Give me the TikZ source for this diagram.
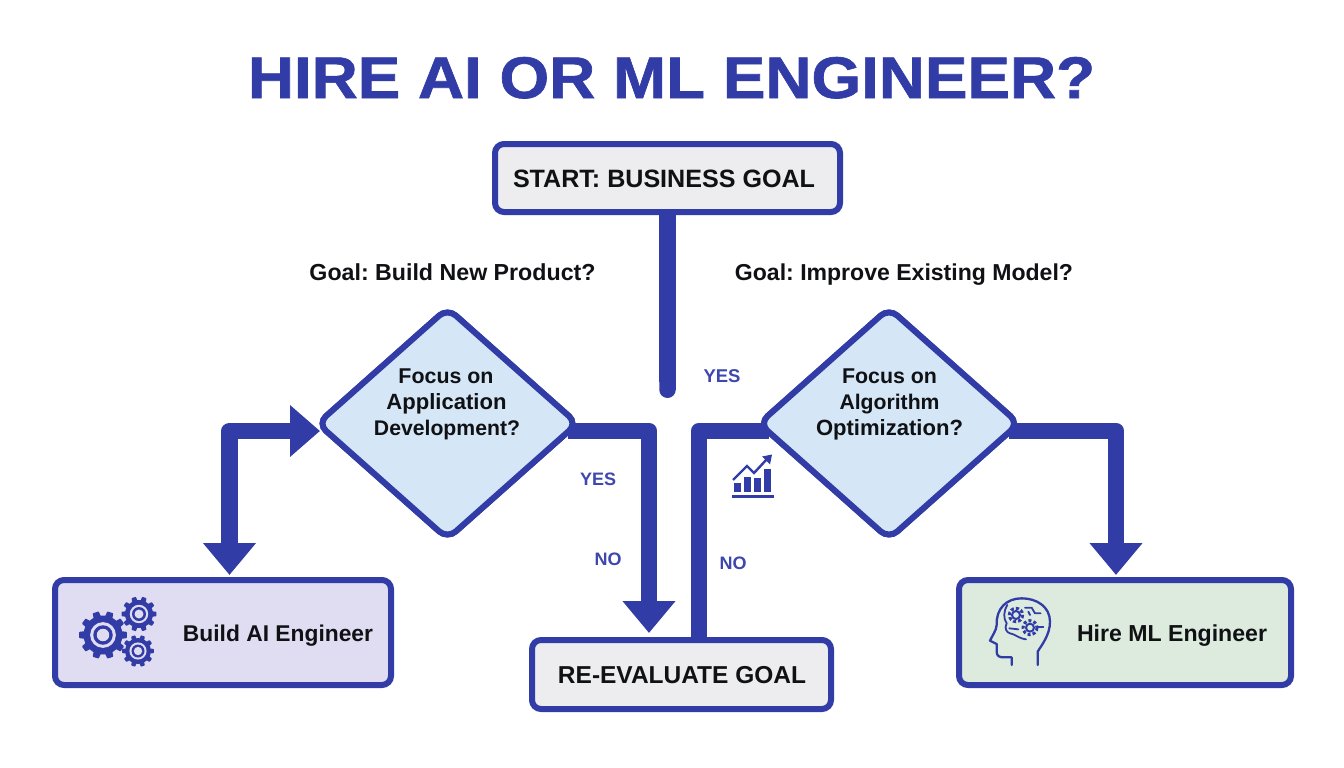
\documentclass[tikz,border=0pt]{standalone}
\usepackage{fontspec}
\setmainfont{Liberation Sans}
\newfontfamily\heavy{Liberation Sans}[BoldFeatures={FakeBold=1.1}]
\usetikzlibrary{arrows.meta,shapes.geometric,calc}
\definecolor{ink}{HTML}{323CA6}
\definecolor{lab}{HTML}{3D47AE}
\definecolor{txt}{HTML}{101114}
\definecolor{aifill}{HTML}{E0DCF2}
\definecolor{mlfill}{HTML}{DCEBDD}
\definecolor{greyfill}{HTML}{EDEDF0}
\definecolor{diafill}{HTML}{D5E6F6}
\newcommand{\fitw}[2]{\resizebox{#1pt}{!}{\frenchspacing\bfseries\strut #2}}
\tikzset{
  x=1pt,y=-1pt,
  box/.style={draw=ink,line width=6pt,rounded corners=9pt,minimum width=#1,inner sep=0pt},
  dia/.style={draw=ink,fill=diafill,line width=6pt,diamond,rounded corners=11pt,minimum width=262pt,minimum height=233pt,inner sep=0pt},
  tx/.style={anchor=base,text=txt,inner sep=0pt},
  yn/.style={anchor=base,text=lab,inner sep=0pt},
  flow/.style={draw=ink,line width=16.5pt,line join=round},
  bigtip/.style={-{Triangle[width=51pt,length=32pt]}},
}
\newcommand{\gearicon}[5]{% x y outer inner fill
  \fill[ink] (#1,#2) circle[radius=#4];
  \foreach \a in {0,36,...,324}{
    \fill[ink,rounded corners=0.6pt] ($(#1,#2)+({\a-12}:#4-1)$) -- ($(#1,#2)+({\a-7.5}:#3)$) -- ($(#1,#2)+({\a+7.5}:#3)$) -- ($(#1,#2)+({\a+12}:#4-1)$) -- cycle;
  }
  \fill[#5] (#1,#2) circle[radius=0.66*#4];
  \fill[ink] (#1,#2) circle[radius=0.50*#4];
  \fill[#5] (#1,#2) circle[radius=0.32*#4];
}
\begin{document}
\begin{tikzpicture}
\useasboundingbox (0,0) rectangle (1344,768);
\fill[white] (0,0) rectangle (1344,768);

\node[anchor=base,text=ink,inner sep=0pt] (title) at (671.5,98) {\scalebox{1}[0.92]{\fitw{847}{\heavy\bfseries HIRE AI OR ML ENGINEER?}}};

\coordinate (yesend) at (667.5,398);
\node[box=345pt,fill=greyfill,minimum height=68pt] (start) at (667.5,178) {};
\node[box=336pt,fill=aifill,minimum height=105pt] (ai) at (223,632.5) {};
\node[box=299pt,fill=greyfill,minimum height=69pt] (re) at (681.5,674.5) {};
\node[box=332pt,fill=mlfill,minimum height=105pt] (ml) at (1125,632.5) {};

\draw[flow,-{Round Cap[]}] (start.south) -- (yesend);

\node[dia] (ldia) at (447.5,423.5) {};
\node[dia] (rdia) at (889,423.5) {};

\draw[flow,bigtip] ($(ldia.east)+(-14,7.5)$) -| ($(re.north)+(-32.5,-4)$);
\draw[flow] ($(re.north)+(17.5,0)$) |- ($(rdia.west)+(14,7.5)$);
\draw[flow,bigtip] ($(rdia.east)+(-14,7.5)$) -| ($(ml.north)+(-9,-2)$);

% diamonds again, over the connector ends
\node[dia] at (ldia.center) {};
\node[dia] at (rdia.center) {};

\draw[flow,{Triangle[width=50pt,length=30pt]}-{Triangle[width=51pt,length=32pt]}]
  ($(ldia.west)+(6.5,7.5)$) -| ($(ai.north)+(6.5,-2)$);

% texts
\node[tx] (t1) at (664,187) {\fitw{302}{START: BUSINESS GOAL}};
\node[tx] (q1) at (452.5,280) {\fitw{286}{Goal: Build New Product?}};
\node[tx] (q2) at (904,280) {\fitw{338}{Goal: Improve Existing Model?}};

\node[tx] (d1a) at (446,383) {\fitw{95}{Focus on}};
\node[tx] (d1b) at (446.5,409) {\fitw{120}{Application}};
\node[tx] (d1c) at (447,435) {\fitw{146}{Development?}};
\node[tx] (d2a) at (889.5,383) {\fitw{95}{Focus on}};
\node[tx] (d2b) at (889.5,409) {\fitw{100}{Algorithm}};
\node[tx] (d2c) at (889.5,435) {\fitw{147}{Optimization?}};

\node[tx] (t2) at (278,641) {\fitw{190}{Build AI Engineer}};
\node[tx] (t3) at (682,683) {\fitw{248}{RE-EVALUATE GOAL}};
\node[tx] (t4) at (1172,641) {\fitw{190}{Hire ML Engineer}};

\node[yn] (y1) at (722,382) {\fitw{37}{YES}};
\node[yn] (y2) at (598,485) {\fitw{36}{YES}};
\node[yn] (n1) at (608,565) {\fitw{27}{NO}};
\node[yn] (n2) at (733,569) {\fitw{27}{NO}};

% gears
\gearicon{103}{635}{24}{19.5}{aifill}
\gearicon{139}{614}{17.5}{14}{aifill}
\gearicon{138}{651}{16}{13}{aifill}

% chart icon
\fill[ink] (732,494.5) rectangle (774,497.5);
\fill[ink] (734,483) rectangle (741,492);
\fill[ink] (744,477) rectangle (751,492);
\fill[ink] (754,477.5) rectangle (761,492);
\fill[ink] (764,469) rectangle (771,492);
\draw[ink,line width=2.4pt] (733,480) -- (747,466) -- (754,473) -- (767,459);
\fill[ink] (772,454.5) -- (762,456.5) -- (770,464.5) -- cycle;

% head icon
\begin{scope}[shift={(950,570)},x=0.3333pt,y=-0.3333pt,line width=2.3pt,line cap=round,line join=round]
\draw[ink] (263,285) -- (263,245) .. controls (275,225) and (300,195) .. (300,155)
  .. controls (300,110) and (260,85) .. (215,85)
  .. controls (170,85) and (138,115) .. (140,165)
  .. controls (140,180) and (125,200) .. (120,212) -- (140,222) -- (140,245)
  .. controls (140,258) and (148,262) .. (160,262) -- (185,262) -- (185,285);
\draw[ink,line width=2pt] (198,135) circle[radius=12];
\draw[ink,line width=3pt,line cap=butt,dash pattern=on 3pt off 2.2pt] (198,135) circle[radius=20];
\draw[ink,line width=2pt] (240,173) circle[radius=12];
\draw[ink,line width=3pt,line cap=butt,dash pattern=on 3pt off 2.2pt] (240,173) circle[radius=21];
\draw[ink,line width=1.8pt] (225,113) -- (245,113) -- (255,130) -- (272,130);
\draw[ink,line width=1.8pt] (235,125) -- (240,135);
\draw[ink,line width=1.8pt] (172,105) .. controls (160,125) and (160,145) .. (170,160) .. controls (162,175) and (170,188) .. (180,190)
  .. controls (195,192) and (205,205) .. (228,208);
\draw[ink,line width=1.8pt] (178,175) -- (205,178);
\draw[ink,line width=1.8pt] (262,170) -- (280,170);
\end{scope}
\end{tikzpicture}
\end{document}
